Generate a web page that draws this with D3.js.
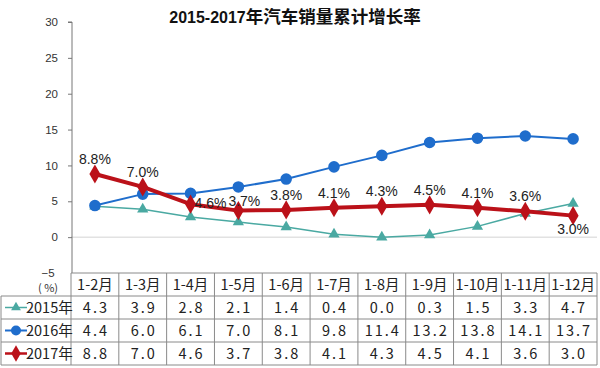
<!DOCTYPE html>
<html lang="zh">
<head>
<meta charset="utf-8">
<title>2015-2017年汽车销量累计增长率</title>
<script src="https://cdn.jsdelivr.net/npm/d3@7/dist/d3.min.js"></script>
<style>
  body { margin: 0; background: #fff; }
  svg { display: block; font-family: "Liberation Sans", Arial, sans-serif; }
  .cjk { font-family: "Noto Sans CJK SC", "Liberation Sans", sans-serif; }
</style>
</head>
<body>
<div id="chart"></div>
<script>
// data
var months = ["1-2月", "1-3月", "1-4月", "1-5月", "1-6月", "1-7月", "1-8月", "1-9月", "1-10月", "1-11月", "1-12月"];
var years = ["2015年", "2016年", "2017年"];
var values2015 = [4.3, 3.9, 2.8, 2.1, 1.4, 0.4, 0.0, 0.3, 1.5, 3.3, 4.7];
var values2016 = [4.4, 6.0, 6.1, 7.0, 8.1, 9.8, 11.4, 13.2, 13.8, 14.1, 13.7];
var values2017 = [8.8, 7.0, 4.6, 3.7, 3.8, 4.1, 4.3, 4.5, 4.1, 3.6, 3.0];
var yTicks = [30, 25, 20, 15, 10, 5, 0];

var width = 600, height = 368;
var plotLeft = 71, plotRight = 597, plotTop = 22, plotBottom = 273;
var rowH = 23;

var svg = d3.select("#chart").append("svg")
    .attr("width", width)
    .attr("height", height);

// scales
var x = d3.scaleBand().domain(months).range([plotLeft, plotRight]);
var y = d3.scaleLinear().domain([-5, 30]).range([plotBottom, plotTop]);
var cx = function(i) { return x(months[i]) + x.bandwidth() / 2; };

// title
var title = svg.append("text")
    .attr("x", 295).attr("y", 23)
    .attr("text-anchor", "middle")
    .attr("font-weight", "bold")
    .attr("fill", "#111");
title.append("tspan").attr("font-size", 16).text("2015-2017");
title.append("tspan").attr("class", "cjk").attr("font-size", 17.5).text("年汽车销量累计增长率");

// zero line
svg.append("line")
    .attr("x1", plotLeft).attr("x2", plotRight)
    .attr("y1", y(0)).attr("y2", y(0))
    .attr("stroke", "#e2e2e2").attr("stroke-width", 1.5);

// y axis
var yAxis = svg.append("g")
    .attr("transform", "translate(" + (plotLeft + 1) + ",0)")
    .call(d3.axisLeft(y).tickValues(yTicks).tickSize(4).tickPadding(10));
yAxis.select(".domain").attr("stroke", "#777").attr("d", "M-4," + y(30) + "H0V" + plotBottom);
yAxis.selectAll(".tick line").attr("stroke", "#777");
yAxis.selectAll(".tick text").attr("fill", "#333").attr("font-size", 11.5)
    .attr("font-family", "Liberation Sans, Arial, sans-serif");

// "-5" and unit in the header corner
svg.append("text").attr("x", 48).attr("y", 277).attr("text-anchor", "middle")
    .attr("font-size", 11.5).attr("fill", "#333").text("−5");
svg.append("text").attr("x", 48).attr("y", 292).attr("text-anchor", "middle")
    .attr("class", "cjk").attr("font-size", 11).attr("fill", "#333").text("( %)");

// series
var series = [
  { name: years[0], values: values2015, color: "#4aa9a2", width: 1.5, symbol: d3.symbolTriangle, size: 55 },
  { name: years[1], values: values2016, color: "#1f6dcc", width: 2, symbol: d3.symbolCircle, size: 105 },
  { name: years[2], values: values2017, color: "#bb1119", width: 4, symbol: d3.symbolDiamond, size: 105 }
];

var line = d3.line()
    .x(function(d, i) { return cx(i); })
    .y(function(d) { return y(d); });

series.forEach(function(s) {
  var g = svg.append("g");
  g.append("path")
      .attr("d", line(s.values))
      .attr("fill", "none")
      .attr("stroke", s.color)
      .attr("stroke-width", s.width)
      .attr("stroke-linejoin", "round");
  g.selectAll("path.mark")
      .data(s.values)
      .enter()
      .append("path")
      .attr("class", "mark")
      .attr("d", d3.symbol().type(s.symbol).size(s.size))
      .attr("transform", function(d, i) { return "translate(" + cx(i) + "," + y(d) + ")"; })
      .attr("fill", s.color);
});

// 2017 labels
var labelShift = { 2: [20, -1], 3: [6, -10], 10: [0, 13] };
svg.append("g").selectAll("text")
    .data(values2017)
    .enter()
    .append("text")
    .attr("x", function(d, i) { return cx(i) + (labelShift[i] ? labelShift[i][0] : 0); })
    .attr("y", function(d, i) { return y(d) + (labelShift[i] ? labelShift[i][1] : -15); })
    .attr("dy", "0.35em")
    .attr("text-anchor", "middle")
    .attr("font-size", 14)
    .attr("fill", "#222")
    .text(function(d) { return d.toFixed(1) + "%"; });

// data table
var table = svg.append("g").attr("stroke", "#8a8a8a").attr("stroke-width", 1);
var tTop = plotBottom, tBottom = plotBottom + rowH * 4;
table.append("line").attr("x1", plotLeft).attr("x2", plotRight).attr("y1", tTop).attr("y2", tTop);
for (var r = 1; r <= 4; r++) {
  table.append("line").attr("x1", 1).attr("x2", plotRight)
      .attr("y1", tTop + rowH * r).attr("y2", tTop + rowH * r);
}
table.append("line").attr("x1", 1).attr("x2", 1).attr("y1", tTop + rowH).attr("y2", tBottom);
months.forEach(function(m) {
  table.append("line").attr("x1", x(m)).attr("x2", x(m)).attr("y1", tTop).attr("y2", tBottom);
});
table.append("line").attr("x1", plotRight).attr("x2", plotRight).attr("y1", tTop).attr("y2", tBottom);

// header
svg.append("g").selectAll("text")
    .data(months)
    .enter()
    .append("text")
    .attr("class", "cjk")
    .attr("x", function(d, i) { return cx(i); })
    .attr("y", tTop + rowH / 2)
    .attr("dy", "0.35em")
    .attr("text-anchor", "middle")
    .attr("font-size", 14.5)
    .attr("fill", "#222")
    .text(function(d) { return d; });

// rows
series.forEach(function(s, r) {
  var rowY = tTop + rowH * (r + 1) + rowH / 2;
  var g = svg.append("g");
  g.append("line").attr("x1", 5).attr("x2", 27).attr("y1", rowY).attr("y2", rowY)
      .attr("stroke", s.color).attr("stroke-width", Math.min(s.width, 2.5));
  g.append("path")
      .attr("d", d3.symbol().type(s.symbol).size(s.size * 0.75))
      .attr("transform", "translate(16," + rowY + ")")
      .attr("fill", s.color);
  g.append("text")
      .attr("class", "cjk")
      .attr("x", 26).attr("y", rowY).attr("dy", "0.35em")
      .attr("font-size", 14.5).attr("fill", "#222")
      .text(s.name);
  g.selectAll("text.v")
      .data(s.values)
      .enter()
      .append("text")
      .attr("class", "cjk v")
      .attr("x", function(d, i) { return cx(i) + 1; })
      .attr("y", rowY).attr("dy", "0.35em")
      .attr("text-anchor", "middle")
      .attr("font-size", 14.5)
      .attr("letter-spacing", 2)
      .attr("fill", "#222")
      .text(function(d) { return d.toFixed(1); });
});
</script>
</body>
</html>
